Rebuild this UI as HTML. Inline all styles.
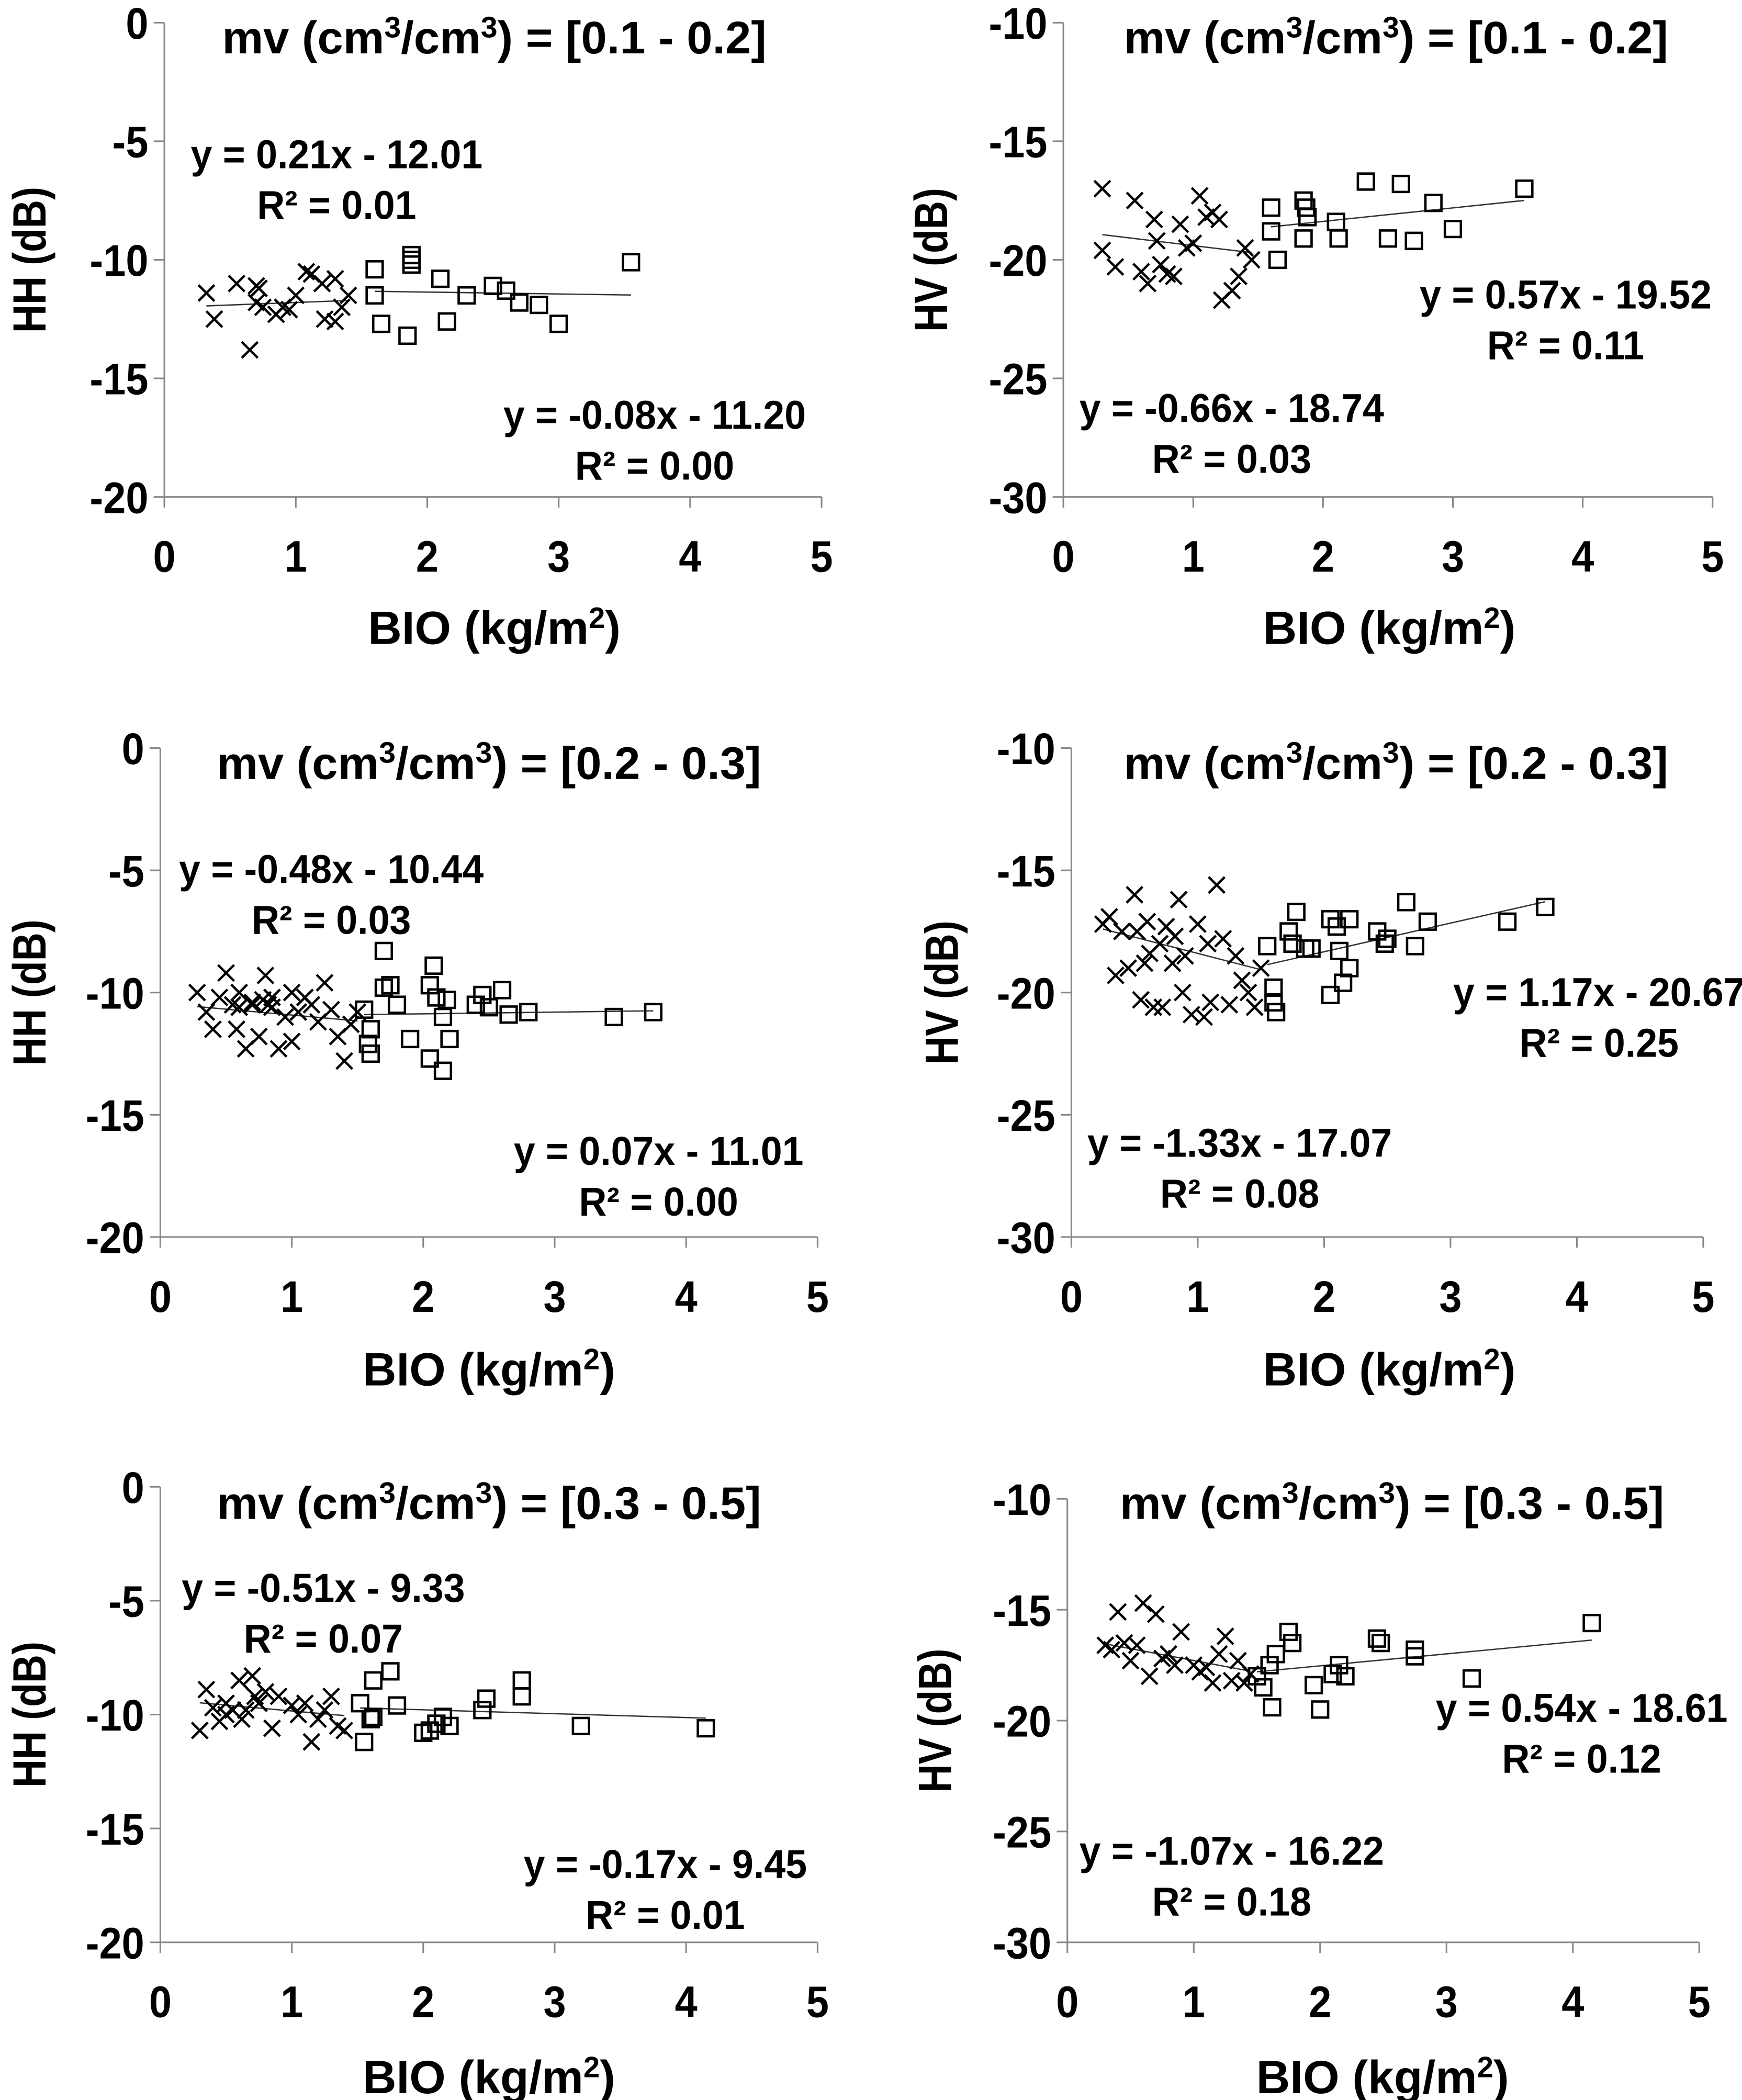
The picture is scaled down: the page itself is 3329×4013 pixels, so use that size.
<!DOCTYPE html>
<html><head><meta charset="utf-8">
<style>
html,body{margin:0;padding:0;background:#fff;}
svg{display:block;}
text{font-family:"Liberation Sans Narrow","Liberation Sans",sans-serif;font-weight:bold;fill:#000;}
</style></head>
<body>
<svg id="chart" xmlns="http://www.w3.org/2000/svg" width="3329" height="4013" viewBox="0 0 1304 1572"></svg>
<script>
// ---- data ----
const p1Cross=[[0.32,-11.4],[0.38,-12.5],[0.55,-11],[0.65,-13.8],[0.7,-11.8],[0.72,-11.2],[0.75,-12],[0.85,-12.3],[0.9,-12],[0.95,-12.1],[1.0,-11.5],[1.08,-10.5],[1.12,-10.6],[1.2,-11],[1.22,-12.5],[1.3,-12.6],[1.35,-12],[1.4,-11.5],[1.3,-10.8],[0.7,-11.1]];
const p1Square=[[1.6,-10.4],[1.6,-11.5],[1.65,-12.7],[1.85,-13.2],[1.88,-10],[1.88,-9.8],[1.88,-10.2],[2.1,-10.8],[2.15,-12.6],[2.3,-11.5],[2.5,-11.1],[2.6,-11.3],[2.7,-11.8],[2.85,-11.9],[3.0,-12.7],[3.55,-10.1]];
const p2Cross=[[0.3,-17],[0.3,-19.6],[0.4,-20.3],[0.55,-17.5],[0.6,-20.5],[0.65,-21],[0.7,-18.3],[0.72,-19.2],[0.75,-20.2],[0.8,-20.6],[0.85,-20.7],[0.9,-18.5],[0.95,-19.5],[1.0,-19.3],[1.05,-17.3],[1.1,-18.2],[1.15,-18],[1.2,-18.3],[1.22,-21.7],[1.3,-21.3],[1.35,-20.7],[1.4,-19.5],[1.45,-20]];
const p2Square=[[1.6,-17.8],[1.6,-18.8],[1.65,-20],[1.85,-19.1],[1.85,-17.5],[1.87,-17.8],[1.88,-18.2],[2.1,-18.4],[2.12,-19.1],[2.33,-16.7],[2.5,-19.1],[2.6,-16.8],[2.7,-19.2],[2.85,-17.6],[3.0,-18.7],[3.55,-17]];
const p3Cross=[[0.28,-10],[0.35,-10.8],[0.4,-11.5],[0.45,-10.2],[0.5,-9.2],[0.55,-10.5],[0.58,-11.5],[0.6,-10],[0.65,-12.3],[0.7,-10.4],[0.75,-11.8],[0.78,-10.3],[0.8,-9.3],[0.82,-10.5],[0.85,-10.2],[0.9,-12.3],[0.95,-11],[1.0,-12],[1.0,-10],[1.05,-10.8],[1.1,-10.2],[1.15,-10.5],[1.2,-11.2],[1.25,-9.6],[1.3,-10.7],[1.35,-11.8],[1.4,-12.8],[1.45,-11.3],[1.5,-10.8],[0.6,-10.6],[0.7,-10.5],[0.85,-10.6]];
const p3Square=[[1.55,-10.7],[1.58,-12.1],[1.6,-11.5],[1.6,-12.5],[1.7,-8.3],[1.7,-9.8],[1.75,-9.7],[1.8,-10.5],[1.9,-11.9],[2.05,-9.7],[2.05,-12.7],[2.08,-8.9],[2.1,-10.2],[2.15,-11],[2.15,-13.2],[2.2,-11.9],[2.18,-10.3],[2.4,-10.5],[2.45,-10.1],[2.5,-10.6],[2.6,-9.9],[2.65,-10.9],[2.8,-10.8],[3.45,-11],[3.75,-10.8]];
const p4Cross=[[0.25,-17.2],[0.3,-16.9],[0.35,-19.3],[0.4,-17.5],[0.45,-19],[0.5,-16],[0.52,-17.5],[0.55,-20.3],[0.58,-18.8],[0.6,-17.1],[0.62,-18.4],[0.65,-20.6],[0.7,-18],[0.72,-20.6],[0.75,-17.3],[0.8,-18.8],[0.82,-17.7],[0.85,-16.2],[0.88,-20],[0.9,-18.5],[0.95,-20.9],[1.0,-17.2],[1.05,-21],[1.08,-18],[1.1,-20.4],[1.15,-15.6],[1.2,-17.8],[1.25,-20.5],[1.3,-18.5],[1.35,-19.5],[1.4,-20],[1.45,-20.6],[1.5,-19]];
const p4Square=[[1.55,-18.1],[1.6,-19.8],[1.6,-20.4],[1.62,-20.8],[1.72,-17.5],[1.75,-18],[1.78,-16.7],[1.85,-18.2],[1.9,-18.2],[2.05,-17],[2.05,-20.1],[2.1,-17.3],[2.12,-18.3],[2.15,-19.6],[2.2,-17],[2.2,-19],[2.42,-17.5],[2.48,-18],[2.5,-17.8],[2.65,-16.3],[2.72,-18.1],[2.82,-17.1],[3.45,-17.1],[3.75,-16.5]];
const p5Cross=[[0.3,-10.7],[0.35,-8.9],[0.4,-9.7],[0.45,-10.3],[0.5,-9.5],[0.55,-9.8],[0.6,-8.5],[0.65,-9.8],[0.7,-8.3],[0.72,-9.2],[0.75,-9.5],[0.8,-9],[0.85,-10.6],[0.9,-9.2],[1.0,-9.6],[1.05,-10],[1.1,-9.5],[1.15,-11.2],[1.2,-10.2],[1.25,-9.8],[1.3,-9.2],[1.35,-10.5],[1.4,-10.7],[0.5,-10],[0.62,-10.2]];
const p5Square=[[1.52,-9.5],[1.55,-11.2],[1.6,-10.2],[1.62,-8.5],[1.62,-10.1],[1.75,-8.1],[1.8,-9.6],[2.0,-10.8],[2.05,-10.7],[2.1,-10.4],[2.15,-10.1],[2.2,-10.5],[2.45,-9.8],[2.48,-9.3],[2.75,-8.5],[2.75,-9.2],[3.2,-10.5],[4.15,-10.6]];
const p6Cross=[[0.35,-16.8],[0.4,-15.1],[0.45,-16.5],[0.5,-17.3],[0.55,-16.6],[0.6,-14.7],[0.65,-18],[0.7,-15.2],[0.75,-17.2],[0.85,-17.5],[0.9,-16],[1.0,-17.5],[1.05,-17.8],[1.1,-17.6],[1.2,-17],[1.25,-16.2],[1.3,-18.2],[1.35,-17.3],[1.4,-18.3],[1.45,-17.9],[0.3,-16.6],[0.8,-17],[1.15,-18.3]];
const p6Square=[[1.5,-18],[1.55,-18.5],[1.6,-17.5],[1.62,-19.4],[1.65,-17],[1.75,-16],[1.78,-16.5],[1.95,-18.4],[2.0,-19.5],[2.1,-17.9],[2.15,-17.5],[2.2,-18],[2.45,-16.3],[2.48,-16.5],[2.75,-16.8],[2.75,-17.1],[3.2,-18.1],[4.15,-15.6]];
const crossSlopes=[0.21,-0.66,-0.48,-1.33,-0.51,-1.07];
const crossIntercepts=[-12.01,-18.74,-10.44,-17.07,-9.33,-16.22];
const squareSlopes=[-0.08,0.57,0.07,1.17,-0.17,0.54];
const squareIntercepts=[-11.20,-19.52,-11.01,-20.67,-9.45,-18.61];
const crossR2=["0.01","0.03","0.03","0.08","0.07","0.18"];
const squareR2=["0.00","0.11","0.00","0.25","0.01","0.12"];
const titles=["[0.1 - 0.2]","[0.1 - 0.2]","[0.2 - 0.3]","[0.2 - 0.3]","[0.3 - 0.5]","[0.3 - 0.5]"];
const xTicks=[0,1,2,3,4,5];
const hhTicks=[0,-5,-10,-15,-20];
const hvTicks=[-10,-15,-20,-25,-30];

// ---- layout ----
const panels=[
 {x0:123,x5:615,yTop:17,yBot:372,ymax:0,ymin:-20,ticks:hhTicks,lab:"HH (dB)",ylx:22,tx:370,ty:28,xlx:370,xly:470,cross:p1Cross,sq:p1Square,ce:[252,115],se:[490,310]},
 {x0:796,x5:1282,yTop:17,yBot:372,ymax:-10,ymin:-30,ticks:hvTicks,lab:"HV (dB)",ylx:697,tx:1045,ty:28,xlx:1040,xly:470,cross:p2Cross,sq:p2Square,ce:[922,305],se:[1172,220]},
 {x0:120,x5:612,yTop:560,yBot:926,ymax:0,ymin:-20,ticks:hhTicks,lab:"HH (dB)",ylx:22,tx:366,ty:571,xlx:366,xly:1025,cross:p3Cross,sq:p3Square,ce:[248,650],se:[493,861]},
 {x0:802,x5:1275,yTop:560,yBot:926,ymax:-10,ymin:-30,ticks:hvTicks,lab:"HV (dB)",ylx:705,tx:1045,ty:571,xlx:1040,xly:1025,cross:p4Cross,sq:p4Square,ce:[928,855],se:[1197,742]},
 {x0:120,x5:612,yTop:1113,yBot:1454,ymax:0,ymin:-20,ticks:hhTicks,lab:"HH (dB)",ylx:22,tx:366,ty:1125,xlx:366,xly:1555,cross:p5Cross,sq:p5Square,ce:[242,1188],se:[498,1395]},
 {x0:799,x5:1272,yTop:1122,yBot:1454,ymax:-10,ymin:-30,ticks:hvTicks,lab:"HV (dB)",ylx:700,tx:1042,ty:1125,xlx:1035,xly:1555,cross:p6Cross,sq:p6Square,ce:[922,1385],se:[1184,1278]}
];
const NS="http://www.w3.org/2000/svg";
const svg=document.getElementById('chart');
function mk(tag,attrs,parent,txt){const e=document.createElementNS(NS,tag);for(const k in attrs)e.setAttribute(k,attrs[k]);if(txt!==undefined)e.textContent=txt;parent.appendChild(e);return e;}
function ctext(parent,x,y,anchor,size,sx,rot){
 return mk('text',{x:0,y:0,'text-anchor':anchor,'font-size':size,transform:'translate('+x+' '+y+')'+(rot?' rotate(-90)':'')+' scale('+sx+' 1)'},parent);
}
function fmtEq(m,b){const ms=m.toFixed(2);const bs=Math.abs(b).toFixed(2);return "y = "+ms+"x "+(b<0?"- ":"+ ")+bs;}

panels.forEach((p,i)=>{
 const g=mk('g',{},svg);
 
 
 const sx=v=>p.x0+(v-0)/5*(p.x5-p.x0);
 const sy=v=>p.yBot-(v-p.ymin)/(p.ymax-p.ymin)*(p.yBot-p.yTop);
 const ya=mk('line',{x1:p.x0,y1:p.yTop,x2:p.x0,y2:p.yBot,stroke:'#888','stroke-width':1.2},g);
 
 
 const xa=mk('line',{x1:p.x0,y1:p.yBot,x2:p.x5,y2:p.yBot,stroke:'#888','stroke-width':1.2},g);
 
 
 p.ticks.forEach(t=>{
  const y=sy(t);
  mk('line',{x1:p.x0-8,y1:y,x2:p.x0,y2:y,stroke:'#888','stroke-width':1.2},g);
  const tl=ctext(g,p.x0-12,y+12,'end',33,0.92);
  tl.textContent=String(t);
  
  
 });
 xTicks.forEach(t=>{
  const x=sx(t);
  mk('line',{x1:x,y1:p.yBot,x2:x,y2:p.yBot+8,stroke:'#888','stroke-width':1.2},g);
  const tl=ctext(g,x,p.yBot+56,'middle',33,0.92);
  tl.textContent=String(t);
  
  
 });
 const tt=ctext(g,p.tx,p.ty+12,'middle',34,1.02);
 
 
 tt.innerHTML='mv (cm<tspan dy="-12" font-size="22">3</tspan><tspan dy="12">/cm</tspan><tspan dy="-12" font-size="22">3</tspan><tspan dy="12">) = '+titles[i]+'</tspan>';
 const xl=ctext(g,p.xlx,p.xly+12,'middle',35,1.0);
 
 
 xl.innerHTML='BIO (kg/m<tspan dy="-12" font-size="22">2</tspan><tspan dy="12">)</tspan>';
 const yc=(p.yTop+p.yBot)/2;
 const yl=ctext(g,p.ylx+12,yc,'middle',35,0.84,true);
 yl.textContent=p.lab;
 
 
 function trend(pts,m,b,nm){
  const xs=pts.map(d=>d[0]);const a=Math.min(...xs),c=Math.max(...xs);
  const l=mk('line',{x1:sx(a),y1:sy(m*a+b),x2:sx(c),y2:sy(m*c+b),stroke:'#333','stroke-width':1},g);
  
  
 }
 trend(p.cross,crossSlopes[i],crossIntercepts[i],'trendline-low-biomass');
 trend(p.sq,squareSlopes[i],squareIntercepts[i],'trendline-high-biomass');
 p.cross.forEach(d=>{
  const x=sx(d[0]),y=sy(d[1]),r=6;
  const m=mk('path',{d:`M${x-r} ${y-r}L${x+r} ${y+r}M${x-r} ${y+r}L${x+r} ${y-r}`,stroke:'#000','stroke-width':1.8,fill:'none'},g);
  
  
 });
 p.sq.forEach(d=>{
  const x=sx(d[0]),y=sy(d[1]),r=6;
  const m=mk('rect',{x:x-r,y:y-r,width:2*r,height:2*r,stroke:'#000','stroke-width':1.8,fill:'none'},g);
  
  
 });
 function eq(pos,m,b,r2,nm){
  const e1=ctext(g,pos[0],pos[1]+11,'middle',30,0.96);
  e1.textContent=fmtEq(m,b);
  
  
  const e2=ctext(g,pos[0],pos[1]+49,'middle',30,0.96);
  e2.textContent='R² = '+r2;
  
  
 }
 eq(p.ce,crossSlopes[i],crossIntercepts[i],crossR2[i],'low-biomass');
 eq(p.se,squareSlopes[i],squareIntercepts[i],squareR2[i],'high-biomass');
});
</script>
</body></html>
